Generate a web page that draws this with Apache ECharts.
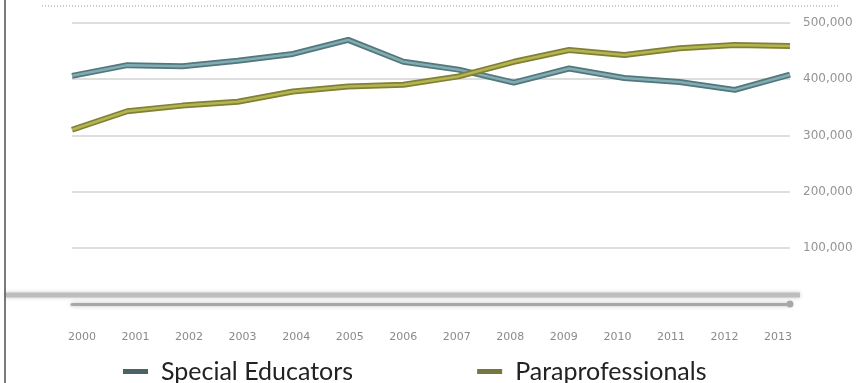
<!DOCTYPE html>
<html>
<head>
<meta charset="UTF-8">
<title>Special Educators vs Paraprofessionals</title>
<style>
  * { margin: 0; padding: 0; box-sizing: border-box; }
  html, body { width: 860px; height: 383px; background: #fff; overflow: hidden; }
  #chart { width: 860px; height: 383px; }
</style>
<script src="https://cdn.jsdelivr.net/npm/echarts@6/dist/echarts.min.js"></script>
</head>
<body>
<div id="chart"></div>
<script>
// 年份
const years = ['2000', '2001', '2002', '2003', '2004', '2005', '2006', '2007', '2008', '2009', '2010', '2011', '2012', '2013']

// 数据
const specialEducators = [406000, 425000, 423000, 433000, 445000, 470000, 431000, 417000, 394000, 419000, 402000, 395000, 381000, 408000]
const paraprofessionals = [310000, 343000, 353000, 360000, 378000, 387000, 390000, 405000, 431000, 452000, 443000, 455000, 461000, 459000]

// y轴刻度
const yTicks = [0, 100000, 200000, 300000, 400000, 500000]

const chart = echarts.init(document.getElementById('chart'))

const fmt = v => (v === 0 ? '' : v.toLocaleString('en-US'))

const option = {
  backgroundColor: '#fff',
  animation: false,
  grid: [
    { left: 72, right: 70, top: 23, bottom: 79 },
    // 只用来放x轴标签
    { left: 82, right: 82, top: 23, bottom: 79 }
  ],
  legend: {
    left: 118,
    top: 354,
    itemWidth: 25,
    itemHeight: 5,
    itemGap: 124,
    icon: 'rect',
    data: [
      { name: 'Special Educators', itemStyle: { color: '#4b6266' } },
      { name: 'Paraprofessionals', itemStyle: { color: '#76763e' } }
    ],
    textStyle: {
      fontFamily: 'Lato, "Noto Sans", sans-serif',
      fontSize: 25,
      color: '#222',
      padding: [0, 0, 0, 8]
    }
  },
  xAxis: [
    {
      type: 'category',
      gridIndex: 0,
      data: years,
      boundaryGap: false,
      axisLine: {
        show: true,
        symbol: ['none', 'circle'],
        symbolSize: [7, 7],
        lineStyle: { color: '#a8a8a8', width: 3, shadowColor: 'rgba(0,0,0,0.25)', shadowBlur: 4 }
      },
      axisTick: { show: false },
      axisLabel: { show: false },
      splitLine: { show: false }
    },
    {
      type: 'category',
      gridIndex: 1,
      data: years,
      boundaryGap: false,
      axisLine: { show: false },
      axisTick: { show: false },
      axisLabel: { margin: 28, color: '#8a8a8a', fontSize: 11, fontFamily: '"DejaVu Sans", sans-serif' },
      splitLine: { show: false }
    }
  ],
  yAxis: [
    {
      type: 'value',
      gridIndex: 0,
      position: 'right',
      min: yTicks[0],
      max: yTicks[yTicks.length - 1],
      interval: 100000,
      axisLine: { show: false },
      axisTick: { show: false },
      axisLabel: { margin: 13, color: '#949494', fontSize: 12, fontFamily: '"DejaVu Sans", sans-serif', formatter: fmt },
      splitLine: { lineStyle: { color: '#dedede', width: 2 } }
    },
    { type: 'value', gridIndex: 1, show: false, min: 0, max: 500000 }
  ],
  series: [
    {
      name: 'Special Educators',
      type: 'line',
      data: specialEducators,
      symbol: 'none',
      lineStyle: { color: '#52777c', width: 6 },
      z: 2
    },
    {
      name: 'Special Educators hl',
      type: 'line',
      data: specialEducators,
      symbol: 'none',
      lineStyle: { color: '#80acb2', width: 2.5 },
      z: 3
    },
    {
      name: 'Paraprofessionals',
      type: 'line',
      data: paraprofessionals,
      symbol: 'none',
      lineStyle: { color: '#808038', width: 6 },
      z: 4
    },
    {
      name: 'Paraprofessionals hl',
      type: 'line',
      data: paraprofessionals,
      symbol: 'none',
      lineStyle: { color: '#b5b550', width: 2.5 },
      z: 5
    }
  ],
  graphic: [
    // 左边竖线
    { type: 'line', shape: { x1: 5, y1: 0, x2: 5, y2: 383 }, style: { stroke: '#7a7a7a', lineWidth: 2 } },
    // 顶部点线
    { type: 'line', shape: { x1: 42, y1: 6, x2: 840, y2: 6 }, style: { stroke: '#999', lineWidth: 1, lineDash: [1, 2] } },
    // 底部灰色阴影条
    {
      type: 'line',
      shape: { x1: 6, y1: 295, x2: 800, y2: 295 },
      style: { stroke: '#bdbdbd', lineWidth: 5, shadowColor: 'rgba(0,0,0,0.2)', shadowBlur: 4 }
    }
  ]
}

chart.setOption(option)
</script>
</body>
</html>
